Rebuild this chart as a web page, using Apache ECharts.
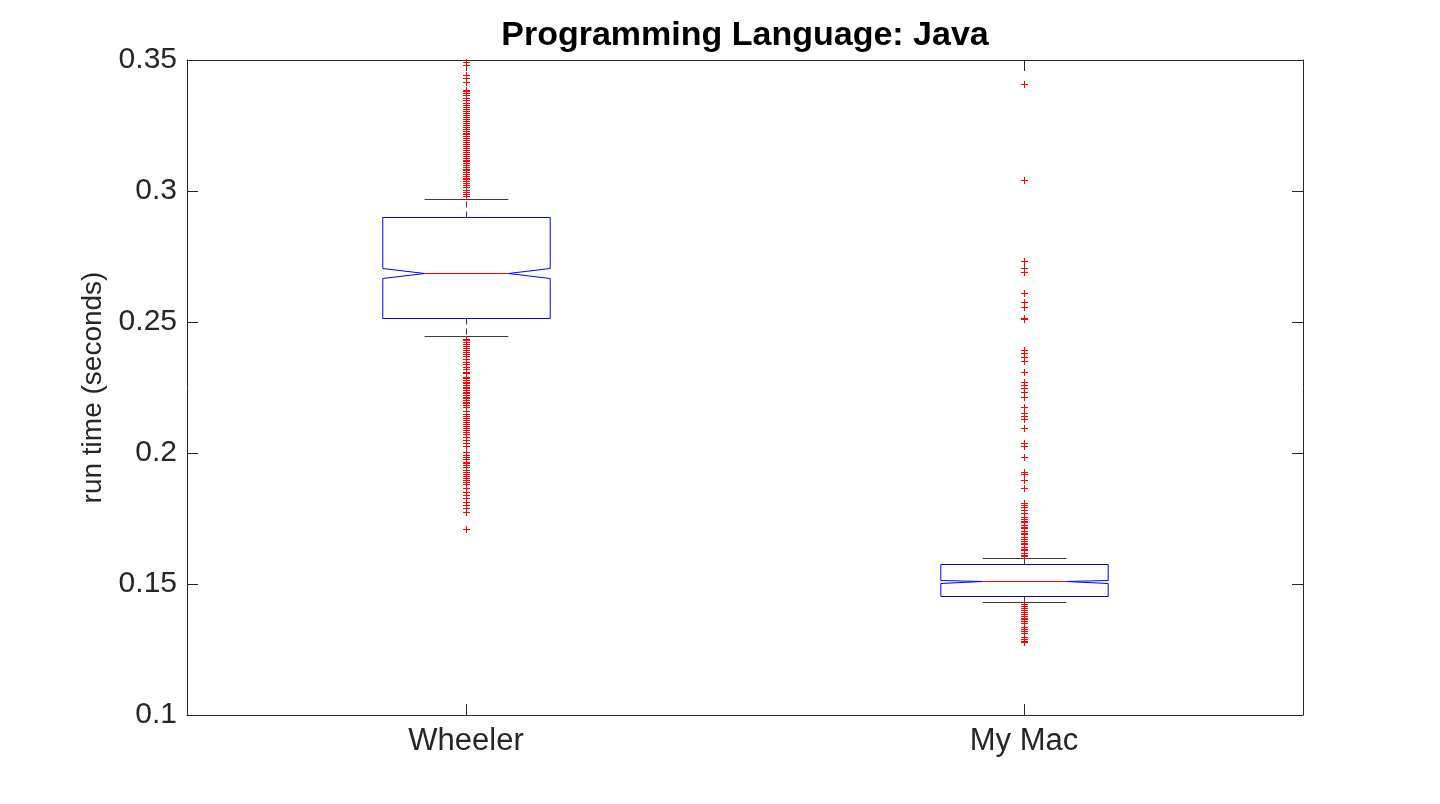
<!DOCTYPE html>
<html>
<head>
<meta charset="utf-8">
<script src="https://cdn.jsdelivr.net/npm/echarts@6/dist/echarts.min.js"></script>
<style>
html,body{margin:0;padding:0;background:#fff;}
#chart{width:1440px;height:804px;}
</style>
</head>
<body>
<div id="chart"></div>
<script>
const categories = ['Wheeler', 'My Mac'];
const yTickLabels = ['0.1', '0.15', '0.2', '0.25', '0.3', '0.35'];

const whiskerLow  = [0.2447, 0.1430];
const q1          = [0.2515, 0.1453];
const notchLow    = [0.2668, 0.1505];
const median      = [0.2686, 0.1510];
const notchHigh   = [0.2705, 0.1516];
const q3          = [0.2900, 0.1575];
const whiskerHigh = [0.2968, 0.1598];

const wheelerOutliers = [
  0.3494, 0.3481, 0.3443, 0.3430, 0.3417, 0.3387, 0.3382, 0.3374, 0.3366, 0.3355,
  0.3347, 0.3336, 0.3328, 0.3321, 0.3313, 0.3307, 0.3298, 0.3290, 0.3282, 0.3275,
  0.3267, 0.3260, 0.3252, 0.3244, 0.3237, 0.3229, 0.3223, 0.3218, 0.3210, 0.3202,
  0.3195, 0.3187, 0.3179, 0.3172, 0.3164, 0.3157, 0.3149, 0.3141, 0.3134, 0.3126,
  0.3118, 0.3115, 0.3107, 0.3099, 0.3092, 0.3084, 0.3080, 0.3073, 0.3065, 0.3057,
  0.3050, 0.3044, 0.3038, 0.3031, 0.3023, 0.3015, 0.3004, 0.2996, 0.2989, 0.2981,
  0.2437, 0.2431, 0.2424, 0.2416, 0.2408, 0.2401, 0.2393, 0.2385, 0.2378, 0.2370,
  0.2358, 0.2348, 0.2340, 0.2327, 0.2319, 0.2311, 0.2304, 0.2291, 0.2286, 0.2279,
  0.2272, 0.2267, 0.2260, 0.2252, 0.2248, 0.2240, 0.2233, 0.2229, 0.2221, 0.2214,
  0.2210, 0.2202, 0.2196, 0.2189, 0.2183, 0.2177, 0.2160, 0.2149, 0.2141, 0.2134,
  0.2126, 0.2118, 0.2111, 0.2103, 0.2095, 0.2088, 0.2080, 0.2073, 0.2062, 0.2050,
  0.2037, 0.2027, 0.2005, 0.1992, 0.1985, 0.1977, 0.1967, 0.1962, 0.1954, 0.1948,
  0.1935, 0.1927, 0.1920, 0.1912, 0.1905, 0.1897, 0.1889, 0.1882, 0.1865, 0.1852,
  0.1840, 0.1827, 0.1814, 0.1802, 0.1789, 0.1776, 0.1709
];

const myMacOutliers = [
  0.3407, 0.3041, 0.2734, 0.2705, 0.2690, 0.2610, 0.2577, 0.2556, 0.2515, 0.2513,
  0.2393, 0.2381, 0.2368, 0.2352, 0.2310, 0.2272, 0.2260, 0.2247, 0.2234, 0.2213,
  0.2174, 0.2152, 0.2141, 0.2130, 0.2094, 0.2037, 0.2028, 0.1984, 0.1929, 0.1920,
  0.1897, 0.1865, 0.1810, 0.1802, 0.1793, 0.1782, 0.1772, 0.1757, 0.1750, 0.1742,
  0.1735, 0.1727, 0.1719, 0.1712, 0.1704, 0.1696, 0.1689, 0.1681, 0.1673, 0.1666,
  0.1658, 0.1651, 0.1643, 0.1635, 0.1628, 0.1620, 0.1612, 0.1605,
  0.1424, 0.1416, 0.1408, 0.1401, 0.1393, 0.1385, 0.1378, 0.1370, 0.1365, 0.1357,
  0.1351, 0.1336, 0.1328, 0.1321, 0.1313, 0.1298, 0.1290, 0.1282, 0.1278
];

const FONT = '"Liberation Sans", Helvetica, Arial, sans-serif';
const AXIS_COLOR = '#262626';

const boxData = categories.map((c, i) => [i, whiskerLow[i], q1[i], notchLow[i], median[i], notchHigh[i], q3[i], whiskerHigh[i]]);
const outlierData = []
  .concat(wheelerOutliers.map(v => [0, v]))
  .concat(myMacOutliers.map(v => [1, v]));

function renderBox(params, api) {
  const idx = api.value(0);
  const band = api.size([1, 0])[0];
  const cx = Math.round(api.coord([idx, 0.2])[0]) + 0.5;
  const hw = band * 0.15;
  const cw = band * 0.075;
  const L = cx - hw, R = cx + hw;
  const Li = cx - cw, Ri = cx + cw;
  const y = v => Math.round(api.coord([idx, v])[1]) + 0.5;
  const yWL = y(api.value(1)), yQ1 = y(api.value(2)), yNL = y(api.value(3));
  const yMed = y(api.value(4)), yNH = y(api.value(5)), yQ3 = y(api.value(6)), yWH = y(api.value(7));
  const whiskStyle = { stroke: '#3a3a3a', lineWidth: 1, lineDash: [6, 4] };
  const capStyle = { stroke: '#3a3a3a', lineWidth: 1 };
  return {
    type: 'group',
    children: [
      { type: 'line', shape: { x1: cx, y1: yQ3, x2: cx, y2: yWH }, style: whiskStyle },
      { type: 'line', shape: { x1: cx, y1: yQ1, x2: cx, y2: yWL }, style: whiskStyle },
      { type: 'line', shape: { x1: Li, y1: yWH, x2: Ri, y2: yWH }, style: capStyle },
      { type: 'line', shape: { x1: Li, y1: yWL, x2: Ri, y2: yWL }, style: capStyle },
      {
        type: 'polygon',
        shape: { points: [[L, yQ3], [R, yQ3], [R, yNH], [Ri, yMed], [R, yNL], [R, yQ1], [L, yQ1], [L, yNL], [Li, yMed], [L, yNH]] },
        style: { fill: '#ffffff', stroke: '#0000ff', lineWidth: 1 }
      },
      { type: 'line', shape: { x1: Li, y1: yMed, x2: Ri, y2: yMed }, style: { stroke: '#ff0000', lineWidth: 1 } }
    ]
  };
}

function renderPlus(params, api) {
  const p = api.coord([api.value(0), api.value(1)]);
  const x = Math.round(p[0]) + 0.5;
  const y = Math.round(p[1]) + 0.5;
  const a = 3.5;
  const st = { stroke: '#ff0000', lineWidth: 1 };
  return {
    type: 'group',
    children: [
      { type: 'line', shape: { x1: x - a, y1: y, x2: x + a, y2: y }, style: st },
      { type: 'line', shape: { x1: x, y1: y - a, x2: x, y2: y + a }, style: st }
    ]
  };
}

const chart = echarts.init(document.getElementById('chart'), null, { renderer: 'canvas' });
chart.setOption({
  animation: false,
  backgroundColor: '#ffffff',
  title: {
    text: 'Programming Language: Java',
    left: 740, top: 14, textAlign: 'center',
    textStyle: { fontFamily: FONT, fontWeight: 'bold', fontSize: 34, color: '#000000' }
  },
  grid: { left: 187, right: 137, top: 60, bottom: 89, containLabel: false },
  xAxis: [
    {
      type: 'category', data: categories, position: 'bottom',
      axisLine: { show: true, lineStyle: { color: AXIS_COLOR, width: 1 } },
      axisTick: { show: true, inside: true, alignWithLabel: true, length: 11, lineStyle: { color: AXIS_COLOR } },
      axisLabel: { fontFamily: FONT, fontSize: 31, color: AXIS_COLOR, margin: 11 },
      splitLine: { show: false }
    },
    {
      type: 'category', data: categories, position: 'top',
      axisLine: { show: true, lineStyle: { color: AXIS_COLOR, width: 1 } },
      axisTick: { show: true, inside: true, alignWithLabel: true, length: 11, lineStyle: { color: AXIS_COLOR } },
      axisLabel: { show: false },
      splitLine: { show: false }
    }
  ],
  yAxis: [
    {
      type: 'value', min: 0.1, max: 0.35, interval: 0.05, position: 'left',
      axisLine: { show: true, lineStyle: { color: AXIS_COLOR, width: 1 } },
      axisTick: { show: true, inside: true, length: 11, lineStyle: { color: AXIS_COLOR } },
      axisLabel: {
        fontFamily: FONT, fontSize: 30, color: AXIS_COLOR, margin: 10,
        padding: [7, 0, 0, 0],
        formatter: (v) => yTickLabels[Math.round((v - 0.1) / 0.05)]
      },
      splitLine: { show: false },
      name: 'run time (seconds)', nameLocation: 'middle', nameRotate: 90, nameGap: 70,
      nameTextStyle: { fontFamily: FONT, fontSize: 28, color: AXIS_COLOR }
    },
    {
      type: 'value', min: 0.1, max: 0.35, interval: 0.05, position: 'right',
      axisLine: { show: true, lineStyle: { color: AXIS_COLOR, width: 1 } },
      axisTick: { show: true, inside: true, length: 11, lineStyle: { color: AXIS_COLOR } },
      axisLabel: { show: false },
      splitLine: { show: false }
    }
  ],
  series: [
    {
      type: 'custom', name: 'box', xAxisIndex: 0, yAxisIndex: 0,
      renderItem: renderBox, data: boxData, z: 2,
      encode: { x: 0, y: [1, 2, 3, 4, 5, 6, 7] }
    },
    {
      type: 'custom', name: 'outliers', xAxisIndex: 0, yAxisIndex: 0,
      renderItem: renderPlus, data: outlierData, z: 3,
      encode: { x: 0, y: 1 }
    }
  ]
});
</script>
</body>
</html>
